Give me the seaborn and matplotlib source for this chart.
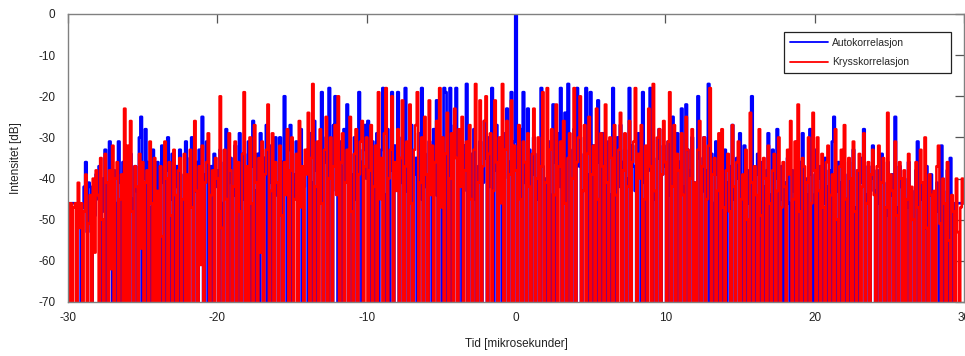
import numpy as np
import pandas as pd
import matplotlib
matplotlib.use("Agg")
import matplotlib.pyplot as plt
import seaborn as sns

# ---------------- data (dB, sampled every 0.1 microsecond from -30 to 30) ----------------
t_start, t_step = -30.0, 0.1

auto_db = [
    -46, -46, -46, -46, -46, -46, -46, -46, -46, -88, -47, -42, -36, -53, -41, -42, -90, -44, -49, -39,
    -45, -37, -84, -40, -48, -33, -91, -43, -31, -52, -79, -38, -46, -86, -31, -41, -95, -36, -44, -80,
    -39, -88, -34, -45, -92, -37, -43, -81, -30, -25, -85, -40, -28, -94, -36, -47, -83, -33, -42, -90,
    -36, -44, -87, -32, -41, -93, -38, -30, -80, -45, -34, -89, -42, -37, -96, -33, -46, -84, -39, -31,
    -82, -40, -35, -30, -88, -43, -36, -91, -33, -47, -25, -86, -39, -31, -94, -44, -37, -80, -34, -42,
    -38, -85, -33, -46, -90, -36, -28, -83, -41, -35, -95, -44, -32, -87, -39, -29, -81, -45, -34, -92,
    -40, -31, -86, -37, -26, -93, -43, -34, -80, -29, -46, -88, -35, -27, -96, -41, -32, -84, -38, -30,
    -44, -89, -30, -36, -82, -20, -41, -94, -33, -27, -86, -39, -45, -31, -91, -35, -28, -83, -42, -37,
    -34, -87, -29, -41, -92, -26, -38, -80, -32, -44, -19, -85, -36, -30, -95, -18, -40, -83, -27, -20,
    -43, -88, -31, -37, -90, -28, -41, -22, -84, -34, -39, -93, -30, -45, -81, -19, -36, -89, -33, -27,
    -40, -26, -86, -35, -31, -94, -42, -29, -83, -37, -33, -18, -90, -44, -28, -85, -38, -19, -92, -32,
    -36, -19, -88, -41, -30, -84, -18, -43, -93, -33, -27, -87, -39, -35, -81, -29, -45, -18, -91, -34,
    -42, -86, -31, -37, -92, -28, -44, -21, -83, -35, -30, -89, -18, -19, -95, -40, -18, -84, -33, -27,
    -18, -88, -36, -29, -91, -43, -32, -17, -82, -39, -34, -94, -28, -45, -85, -37, -31, -90, -41, -26,
    -35, -87, -30, -42, -18, -93, -38, -27, -81, -44, -33, -89, -40, -29, -23, -95, -36, -19, -84, -31,
    0, -92, -36, -28, -85, -19, -41, -88, -23, -33, -94, -39, -30, -83, -45, -34, -90, -18, -37, -86,
    -40, -87, -31, -44, -92, -22, -36, -81, -29, -42, -18, -89, -38, -24, -95, -17, -33, -84, -40, -28,
    -86, -18, -37, -30, -93, -43, -34, -18, -82, -39, -19, -90, -32, -45, -88, -21, -36, -94, -29, -41,
    -35, -89, -31, -44, -83, -18, -38, -92, -30, -42, -27, -87, -36, -33, -95, -40, -18, -85, -32, -37,
    -43, -88, -29, -36, -91, -19, -41, -84, -33, -38, -18, -93, -30, -45, -86, -35, -28, -90, -39, -32,
    -37, -85, -31, -44, -92, -25, -40, -82, -29, -36, -94, -23, -42, -87, -22, -33, -89, -38, -30, -83,
    -41, -88, -20, -35, -93, -43, -30, -84, -38, -17, -90, -34, -46, -82, -31, -39, -95, -36, -44, -86,
    -33, -90, -41, -37, -85, -27, -45, -92, -35, -40, -29, -88, -43, -32, -96, -38, -46, -84, -20, -42,
    -88, -39, -34, -47, -93, -36, -42, -81, -38, -29, -86, -44, -33, -91, -40, -28, -95, -45, -37, -83,
    -41, -87, -35, -46, -92, -38, -43, -82, -31, -48, -89, -36, -29, -94, -40, -44, -85, -28, -39, -90,
    -44, -33, -88, -40, -37, -93, -46, -35, -84, -42, -38, -91, -31, -25, -96, -43, -36, -86, -41, -34,
    -39, -89, -45, -36, -94, -42, -33, -85, -47, -38, -92, -41, -35, -28, -87, -44, -37, -90, -40, -32,
    -43, -86, -38, -46, -91, -34, -41, -83, -49, -36, -95, -44, -39, -88, -25, -47, -92, -37, -42, -84,
    -40, -90, -47, -36, -85, -43, -50, -93, -38, -31, -88, -45, -41, -82, -52, -37, -94, -44, -39, -87,
    -45, -89, -41, -48, -92, -32, -43, -86, -50, -38, -91, -35, -47, -84, -46, -46, -46, -46, -46, -46,
    -46,
]

cross_db = [
    -46, -80, -46, -90, -47, -46, -85, -41, -52, -46, -88, -48, -39, -75, -51, -44, -95, -40, -58, -38,
    -44, -85, -35, -50, -90, -34, -41, -76, -38, -62, -32, -88, -40, -36, -95, -45, -39, -82, -23, -77,
    -32, -86, -26, -48, -91, -37, -42, -79, -34, -57, -36, -84, -41, -38, -93, -31, -46, -75, -35, -88,
    -43, -81, -37, -54, -89, -31, -40, -96, -36, -49, -78, -33, -44, -87, -38, -35, -92, -45, -34, -80,
    -39, -84, -33, -47, -90, -26, -43, -77, -37, -61, -32, -88, -41, -36, -29, -94, -44, -38, -83, -35,
    -40, -87, -20, -52, -93, -33, -45, -80, -29, -38, -86, -42, -31, -97, -36, -48, -79, -34, -19, -89,
    -37, -82, -30, -46, -91, -27, -41, -78, -35, -58, -31, -85, -39, -33, -22, -95, -43, -29, -84, -36,
    -41, -88, -32, -49, -92, -36, -44, -28, -81, -38, -30, -90, -45, -34, -79, -26, -47, -37, -86, -33,
    -39, -24, -83, -35, -17, -90, -42, -31, -77, -28, -46, -94, -33, -25, -85, -40, -30, -88, -37, -27,
    -44, -20, -87, -36, -29, -93, -41, -33, -80, -25, -48, -91, -34, -28, -84, -39, -31, -26, -89, -37,
    -30, -86, -38, -27, -95, -42, -32, -79, -19, -45, -35, -88, -29, -18, -83, -40, -33, -20, -92, -36,
    -43, -28, -84, -35, -21, -90, -37, -31, -81, -22, -46, -94, -33, -27, -19, -87, -41, -30, -78, -25,
    -39, -88, -21, -44, -32, -91, -36, -26, -80, -18, -47, -30, -85, -34, -24, -96, -40, -29, -83, -23,
    -35, -89, -28, -42, -25, -93, -38, -31, -82, -27, -45, -86, -33, -17, -90, -41, -21, -79, -37, -26,
    -20, -87, -34, -29, -92, -43, -21, -36, -81, -30, -46, -17, -88, -33, -26, -94, -39, -21, -84, -32,
    -38, -90, -27, -45, -83, -31, -36, -96, -29, -42, -80, -34, -23, -88, -40, -30, -86, -37, -19, -93,
    -41, -18, -85, -33, -28, -91, -44, -22, -79, -37, -31, -95, -26, -46, -84, -35, -29, -89, -40, -18,
    -85, -36, -30, -20, -92, -43, -27, -81, -34, -25, -88, -39, -32, -94, -23, -45, -80, -29, -37, -86,
    -22, -41, -87, -30, -35, -93, -27, -44, -82, -33, -24, -89, -38, -29, -96, -42, -26, -84, -36, -31,
    -18, -88, -34, -40, -27, -91, -45, -32, -80, -23, -37, -86, -17, -43, -94, -30, -28, -83, -39, -26,
    -36, -90, -31, -19, -85, -42, -27, -95, -34, -38, -81, -29, -44, -88, -25, -33, -92, -40, -28, -84,
    -41, -87, -33, -26, -93, -37, -30, -82, -45, -32, -18, -89, -39, -35, -96, -43, -29, -84, -28, -47,
    -85, -38, -34, -48, -91, -27, -42, -80, -36, -31, -94, -45, -39, -87, -33, -50, -82, -24, -41, -90,
    -37, -44, -86, -28, -49, -93, -35, -40, -81, -32, -46, -88, -38, -34, -95, -43, -30, -84, -47, -36,
    -42, -89, -33, -39, -26, -92, -45, -31, -80, -22, -48, -86, -35, -37, -97, -41, -30, -83, -46, -24,
    -38, -87, -30, -43, -91, -34, -47, -79, -36, -32, -94, -44, -39, -85, -28, -50, -88, -37, -33, -82,
    -27, -45, -90, -35, -40, -83, -31, -48, -93, -38, -34, -86, -42, -29, -96, -46, -36, -81, -39, -33,
    -44, -88, -37, -32, -92, -41, -35, -80, -47, -24, -85, -39, -43, -94, -31, -49, -87, -36, -40, -83,
    -38, -91, -45, -34, -86, -42, -50, -79, -36, -47, -93, -33, -41, -84, -30, -52, -89, -39, -44, -82,
    -43, -87, -37, -32, -51, -92, -40, -46, -81, -36, -55, -90, -44, -48, -85, -40, -53, -94, -47, -40,
    -46,
]

series_names = ["Autokorrelasjon", "Krysskorrelasjon"]
series_colors = ["#0000ff", "#ff0000"]
series_widths = [1.95, 1.8]
x_ticks = [-30, -20, -10, 0, 10, 20, 30]
y_ticks = [0, -10, -20, -30, -40, -50, -60, -70]
x_label = "Tid [mikrosekunder]"
y_label = "Intensitet [dB]"

assert len(auto_db) == len(cross_db) == 601, (len(auto_db), len(cross_db))

t = np.round(t_start + t_step * np.arange(len(auto_db)), 2)
df = pd.DataFrame({"t": t, series_names[0]: auto_db, series_names[1]: cross_db})

# ---------------- style ----------------
sns.set_style("white")
plt.rcParams["font.family"] = ["Liberation Sans", "DejaVu Sans"]
plt.rcParams["axes.unicode_minus"] = False
plt.rcParams["path.simplify"] = False

fig = plt.figure(figsize=(9.65, 3.56), dpi=100)
ax = fig.add_axes([68 / 965, 1 - 302 / 356, (964 - 68) / 965, (302 - 14) / 356])

for name, col, w in zip(series_names, series_colors, series_widths):
    sns.lineplot(data=df, x="t", y=name, ax=ax, color=col, lw=w,
                 drawstyle="steps-mid", estimator=None, sort=False,
                 errorbar=None, label=name)

ax.set_xlim(-30, 30)
ax.set_ylim(-70, 0)
ax.set_xticks(x_ticks)
ax.set_yticks(y_ticks)
ax.set_xticklabels([str(v) for v in x_ticks])
ax.set_yticklabels([str(v) for v in y_ticks])

grey = "#808080"
for sp in ax.spines.values():
    sp.set_visible(True)
    sp.set_color(grey)
    sp.set_linewidth(1.0)
    sp.set_zorder(5)

ax.tick_params(axis="both", which="major", direction="in", length=6.5, width=0.9,
               color="#555555", labelsize=8.5, labelcolor="#222222",
               top=True, right=True)
ax.tick_params(axis="y", pad=9)
ax.tick_params(axis="x", pad=7)

ax.set_xlabel(x_label, fontsize=8.5, color="#222222", labelpad=10)
ax.set_ylabel(y_label, fontsize=8.5, color="#222222", labelpad=12)

leg = ax.legend(loc="upper left", bbox_to_anchor=(0.799, 0.776, 0.186, 0.162),
                mode="expand", fontsize=7.5, frameon=True, fancybox=False,
                framealpha=1.0, edgecolor="#222222", handlelength=3.7,
                handletextpad=0.4, labelspacing=0.95, borderpad=0.55,
                borderaxespad=0.0)
leg.get_frame().set_linewidth(0.9)
for h in leg.get_lines():
    h.set_linewidth(1.3)

fig.savefig("out.png", dpi=100)
